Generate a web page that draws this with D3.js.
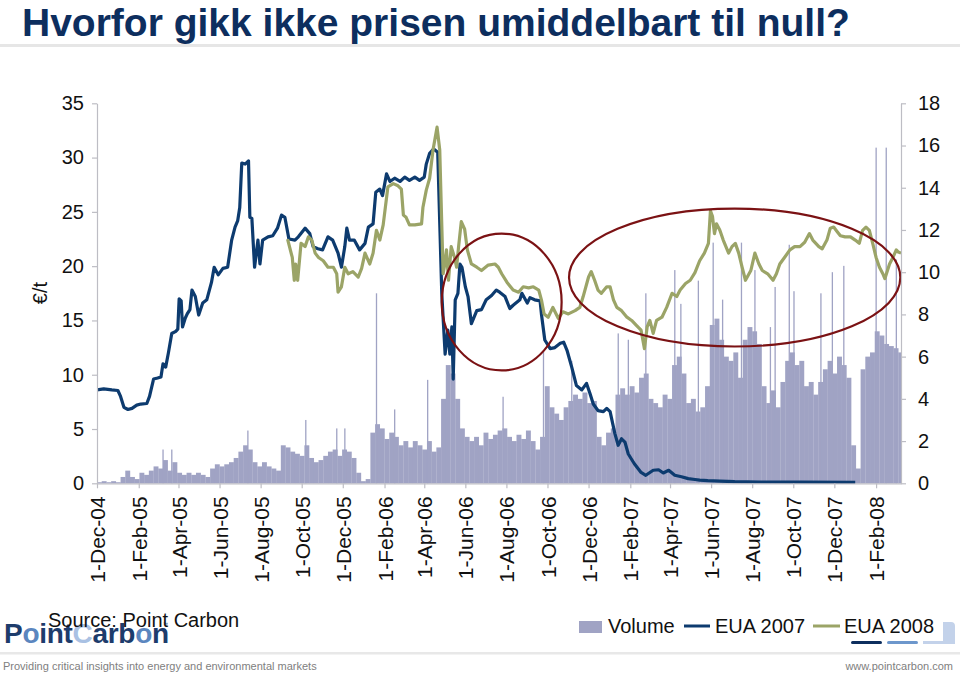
<!DOCTYPE html>
<html><head><meta charset="utf-8">
<script src="https://cdn.jsdelivr.net/npm/d3@7"></script>
<style>
body{margin:0;background:#fff;}
svg{display:block;font-family:"Liberation Sans",Arial,Helvetica,sans-serif;}
</style>
</head><body>
<svg id="chart" width="960" height="675"></svg>
<script>
// ---------------- DATA ----------------
const eua07Dates = ["2004-12-01","2004-12-11","2004-12-23","2005-01-01","2005-01-05","2005-01-10","2005-01-16","2005-01-22","2005-01-29","2005-02-04","2005-02-13","2005-02-17","2005-02-23","2005-03-01","2005-03-06","2005-03-09","2005-03-13","2005-03-17","2005-03-22","2005-03-28","2005-03-31","2005-04-02","2005-04-05","2005-04-07","2005-04-11","2005-04-14","2005-04-18","2005-04-21","2005-04-26","2005-05-01","2005-05-07","2005-05-13","2005-05-20","2005-05-24","2005-05-30","2005-06-06","2005-06-13","2005-06-19","2005-06-24","2005-06-28","2005-07-01","2005-07-04","2005-07-09","2005-07-14","2005-07-16","2005-07-19","2005-07-23","2005-07-28","2005-07-31","2005-08-04","2005-08-12","2005-08-19","2005-08-26","2005-09-01","2005-09-06","2005-09-12","2005-09-21","2005-09-26","2005-10-06","2005-10-13","2005-10-18","2005-10-25","2005-11-01","2005-11-09","2005-11-16","2005-11-24","2005-11-29","2005-12-04","2005-12-07","2005-12-11","2005-12-18","2005-12-26","2006-01-03","2006-01-08","2006-01-15","2006-01-19","2006-01-25","2006-01-29","2006-02-04","2006-02-09","2006-02-16","2006-02-24","2006-03-03","2006-03-10","2006-03-18","2006-03-25","2006-04-01","2006-04-04","2006-04-09","2006-04-15","2006-04-21","2006-04-27","2006-05-02","2006-05-06","2006-05-09","2006-05-12","2006-05-14","2006-05-17","2006-05-21","2006-05-24","2006-05-27","2006-06-01","2006-06-05","2006-06-10","2006-06-18","2006-06-25","2006-07-02","2006-07-10","2006-07-17","2006-07-22","2006-07-30","2006-08-06","2006-08-11","2006-08-21","2006-08-24","2006-09-01","2006-09-05","2006-09-12","2006-09-20","2006-09-22","2006-09-27","2006-10-05","2006-10-12","2006-10-20","2006-10-25","2006-10-30","2006-11-06","2006-11-13","2006-11-21","2006-11-28","2006-12-03","2006-12-08","2006-12-15","2006-12-23","2006-12-28","2007-01-02","2007-01-09","2007-01-14","2007-01-19","2007-01-24","2007-01-29","2007-02-07","2007-02-17","2007-02-24","2007-03-07","2007-03-15","2007-03-22","2007-03-30","2007-04-08","2007-04-18","2007-04-28","2007-05-08","2007-05-15","2007-05-27","2007-06-14","2007-07-06","2007-08-13","2007-10-12","2008-01-01"];
const eua07Values = [8.6,8.7,8.6,8.55,8.0,7.0,6.8,6.9,7.2,7.3,7.35,8.0,9.6,9.7,9.8,11.0,10.7,12.0,13.8,14.0,14.2,17.0,16.8,14.4,15.2,15.6,16.0,17.8,17.2,15.5,16.6,16.9,18.5,19.9,19.2,19.8,19.9,22.4,23.6,24.2,25.4,29.5,29.4,29.7,24.5,24.4,19.9,22.4,20.2,22.4,22.7,22.8,23.5,24.7,24.5,22.5,22.4,22.7,23.5,23.0,21.8,21.6,21.5,22.7,22.4,21.2,19.9,21.8,23.5,22.4,22.4,21.5,22.1,23.6,23.9,26.8,27.1,26.5,28.5,27.8,28.1,27.8,28.2,27.9,28.2,27.9,28.2,29.4,30.4,30.8,30.5,17.5,11.9,14.1,11.9,14.4,9.6,16.9,17.5,20.2,19.9,18.1,17.2,14.7,15.9,16.0,16.9,17.3,17.8,17.6,17.2,16.1,16.4,16.9,17.5,16.6,17.1,16.9,16.8,15.6,13.2,12.4,12.5,12.9,13.0,12.25,10.7,9.0,8.6,9.2,8.3,7.3,6.7,6.6,6.9,6.6,4.6,3.5,4.1,3.8,2.7,1.8,1.0,0.74,1.2,1.25,0.95,1.2,0.74,0.6,0.43,0.35,0.3,0.25,0.2,0.15,0.12,0.1,0.08];

const eua08Dates = ["2005-09-10","2005-09-12","2005-09-17","2005-09-20","2005-09-22","2005-09-25","2005-09-30","2005-10-06","2005-10-11","2005-10-16","2005-10-21","2005-10-26","2005-11-02","2005-11-09","2005-11-17","2005-11-22","2005-11-24","2005-11-29","2005-12-04","2005-12-09","2005-12-16","2005-12-24","2005-12-29","2006-01-03","2006-01-10","2006-01-15","2006-01-20","2006-01-25","2006-01-30","2006-02-06","2006-02-14","2006-02-21","2006-02-26","2006-03-01","2006-03-05","2006-03-10","2006-03-18","2006-03-28","2006-03-30","2006-04-04","2006-04-09","2006-04-14","2006-04-20","2006-04-24","2006-04-26","2006-04-29","2006-05-01","2006-05-04","2006-05-07","2006-05-11","2006-05-16","2006-05-19","2006-05-22","2006-05-26","2006-05-31","2006-06-04","2006-06-10","2006-06-18","2006-06-25","2006-07-05","2006-07-15","2006-07-20","2006-07-25","2006-08-02","2006-08-11","2006-08-19","2006-08-26","2006-09-03","2006-09-10","2006-09-18","2006-09-22","2006-09-26","2006-10-02","2006-10-09","2006-10-17","2006-10-24","2006-11-01","2006-11-11","2006-11-18","2006-11-23","2006-12-01","2006-12-05","2006-12-10","2006-12-15","2006-12-20","2006-12-28","2007-01-02","2007-01-07","2007-01-12","2007-01-19","2007-01-27","2007-02-03","2007-02-10","2007-02-17","2007-02-22","2007-02-26","2007-03-02","2007-03-07","2007-03-12","2007-03-20","2007-03-27","2007-04-04","2007-04-11","2007-04-16","2007-04-24","2007-05-01","2007-05-08","2007-05-15","2007-05-22","2007-05-28","2007-05-31","2007-06-03","2007-06-06","2007-06-09","2007-06-14","2007-06-19","2007-06-27","2007-07-02","2007-07-07","2007-07-12","2007-07-17","2007-07-22","2007-07-30","2007-08-05","2007-08-11","2007-08-16","2007-08-24","2007-09-01","2007-09-06","2007-09-11","2007-09-18","2007-09-26","2007-10-03","2007-10-11","2007-10-18","2007-10-25","2007-10-30","2007-11-08","2007-11-13","2007-11-20","2007-11-25","2007-11-30","2007-12-05","2007-12-10","2007-12-17","2007-12-25","2008-01-01","2008-01-07","2008-01-12","2008-01-17","2008-01-22","2008-01-27","2008-02-01","2008-02-06","2008-02-11","2008-02-14","2008-02-21","2008-02-26","2008-03-02","2008-03-05","2008-03-09"];
const eua08Values = [22.5,22.0,20.8,18.7,20.2,18.7,22.1,21.8,22.7,22.4,21.2,20.8,20.5,19.9,19.9,19.3,17.6,18.1,19.9,19.3,19.5,19.0,19.8,21.2,20.2,21.2,23.3,22.4,23.8,27.3,27.6,27.4,27.1,24.7,24.5,23.8,23.8,23.9,25.4,27.0,28.1,30.7,32.8,30.7,26.1,19.3,20.0,21.5,18.7,21.8,20.8,19.9,21.8,24.1,23.4,21.5,20.2,19.9,19.6,20.1,20.2,19.9,19.3,18.5,17.8,17.6,18.1,18.0,18.1,17.8,16.9,15.6,15.3,16.2,15.2,15.8,15.6,15.9,16.2,17.2,19.0,19.5,18.7,17.8,17.5,18.1,18.1,16.9,16.2,15.9,15.3,15.0,14.55,14.1,12.4,14.4,15.0,13.8,15.0,15.3,16.2,17.5,17.2,17.8,18.4,18.7,19.4,20.5,21.2,22.1,25.1,24.6,23.0,23.9,23.3,22.4,21.2,21.8,22.1,21.2,19.9,18.7,19.6,21.2,20.2,19.6,19.3,18.7,19.3,20.2,20.8,21.5,21.8,21.8,22.2,23.0,22.4,21.8,21.6,22.4,23.5,23.6,23.2,22.8,22.7,22.7,22.4,22.1,23.3,23.6,23.3,22.1,20.8,19.9,19.3,18.85,20.2,20.8,21.5,21.3,21.2];

// weekly traded volume (right axis), weeks starting 1-Dec-04
const volumeStart = "2004-12-01";
const volumeWeekly = [0.05,0.1,0.05,0.1,0.05, 0.3,0.6,0.3,0.2,0.5, 0.4,0.6,0.8,0.7,1.1, 0.6,1.0,0.5,0.4,0.5,
 0.4,0.5,0.4,0.3,0.7, 0.9,0.8,0.9,1.0,1.2, 1.5,1.8,1.6,1.0,0.8, 1.0,0.8,0.7,0.6,1.8,
 1.7,1.5,1.4,1.3,1.8, 1.2,1.0,1.1,1.3,1.5, 1.6,1.3,1.6,1.5,1.2, 0.5,0.1,0.2,2.4,2.8,
 2.6,2.1,2.4,2.2,1.8, 2.0,1.7,2.0,1.8,1.6, 2.0,1.5,1.7,4.0,5.6, 5.2,4.0,2.6,2.2,2.0,
 2.2,1.8,2.4,2.1,2.3, 2.5,2.6,2.2,2.0,2.3, 2.1,2.5,2.0,1.6,2.2, 4.6,3.6,3.3,3.0,3.6,
 3.9,4.2,4.0,4.3,3.8, 3.9,2.2,1.8,2.4,2.6, 4.2,4.5,4.2,4.6,4.3, 5.0,5.2,4.0,3.8,3.6,
 4.2,4.0,5.6,6.0,5.2, 3.8,4.0,3.4,3.6,4.6, 7.5,7.8,6.8,6.0,5.8, 6.2,5.0,6.8,7.4,7.2,
 6.6,4.6,3.8,4.4,3.6, 4.8,5.8,6.2,5.6,5.8, 4.6,4.8,4.2,4.8,5.4, 5.8,5.2,6.0,5.6,5.0,
 1.8,0.7,5.4,6.0,6.2, 7.2,7.0,6.6,6.5,6.4, 6.2];
// single-day volume peaks
const spikeDates = ["2005-03-09","2005-03-22","2005-07-13","2005-10-07","2005-11-22","2005-12-04","2006-01-20","2006-02-16","2006-04-06","2006-07-27","2006-09-25","2006-11-06","2007-01-14","2007-01-29","2007-02-24","2007-04-08","2007-04-17","2007-05-13","2007-06-04","2007-06-18","2007-07-16","2007-08-05","2007-08-28","2007-09-04","2007-09-25","2007-10-02","2007-11-11","2007-11-28","2007-12-15","2008-02-01","2008-02-16","2008-03-02"];
const spikeValues = [1.6,1.6,2.5,3.0,2.6,2.6,9.0,3.5,4.9,4.1,6.3,5.8,7.1,6.8,9.0,10.1,8.5,9.6,11.4,8.7,11.4,10.1,7.4,9.3,11.3,9.1,9.0,10.0,10.3,15.9,15.9,10.6];

const tickDates = ["2004-12-01","2005-02-01","2005-04-01","2005-06-01","2005-08-01","2005-10-01","2005-12-01","2006-02-01","2006-04-01","2006-06-01","2006-08-01","2006-10-01","2006-12-01","2007-02-01","2007-04-01","2007-06-01","2007-08-01","2007-10-01","2007-12-01","2008-02-01"];
const leftTicks = [0,5,10,15,20,25,30,35];
const rightTicks = [0,2,4,6,8,10,12,14,16,18];
// highlighted periods (ellipses): date span and €/t span
const ellipseDates = [["2006-04-27","2006-10-22"],["2006-11-02","2008-03-08"]];
const ellipseValues = [[10.4,23.0],[12.6,25.3]];
const legendItems = ["Volume","EUA 2007","EUA 2008"];

// ---------------- DRAW ----------------
const parse = d3.timeParse("%Y-%m-%d");
const svg = d3.select("#chart");
const C = {vol:"#a0a3c4", e07:"#0d3b6f", e08:"#9ba467", ell:"#7b1214", axis:"#bdbdc4", text:"#111"};

const x = d3.scaleTime().domain([parse("2004-12-01"), parse("2008-03-09")]).range([97, 901]);
const yL = d3.scaleLinear().domain([0,35]).range([483.3, 103.3]);
const yR = d3.scaleLinear().domain([0,18]).range([483.3, 103.3]);

svg.append("defs").append("clipPath").attr("id","plot")
  .append("rect").attr("x",97).attr("y",90).attr("width",804).attr("height",394);

// title
svg.append("text").attr("x",22).attr("y",36).attr("font-size",39).attr("font-weight","bold")
  .attr("fill","#0d2e5e").text("Hvorfor gikk ikke prisen umiddelbart til null?");
svg.append("rect").attr("x",0).attr("y",44).attr("width",960).attr("height",3).attr("fill","#e6e6e6");

// volume bars
const plot = svg.append("g").attr("clip-path","url(#plot)");
const v0 = parse(volumeStart);
const vol = volumeWeekly.map((v,i)=>({d:d3.timeDay.offset(v0,7*i), v}));
plot.append("g").selectAll("rect").data(vol).join("rect")
  .attr("x", d=>x(d.d))
  .attr("width", d=>x(d3.timeDay.offset(d.d,7)) - x(d.d) + 0.2)
  .attr("y", d=>yR(d.v)).attr("height", d=>yR(0)-yR(d.v))
  .attr("fill", C.vol);
const spikes = spikeDates.map((s,i)=>({d:parse(s), v:spikeValues[i]}));
plot.append("g").selectAll("rect").data(spikes).join("rect")
  .attr("x", d=>x(d.d)-0.6).attr("width",1.3)
  .attr("y", d=>yR(d.v)).attr("height", d=>yR(0)-yR(d.v))
  .attr("fill", C.vol);

// lines
const line = d3.line().x(d=>x(d.d)).y(d=>yL(d.v)).curve(d3.curveLinear);
const s07 = eua07Dates.map((s,i)=>({d:parse(s), v:eua07Values[i]}));
const s08 = eua08Dates.map((s,i)=>({d:parse(s), v:eua08Values[i]}));
plot.append("path").datum(s07).attr("d",line).attr("fill","none").attr("stroke",C.e07)
  .attr("stroke-width",3.2).attr("stroke-linejoin","round");
plot.append("path").datum(s08).attr("d",line).attr("fill","none").attr("stroke",C.e08)
  .attr("stroke-width",3.2).attr("stroke-linejoin","round");

// ellipses
ellipseDates.forEach((ds,i)=>{
  const x0 = x(parse(ds[0])), x1 = x(parse(ds[1]));
  const y0 = yL(ellipseValues[i][1]), y1 = yL(ellipseValues[i][0]);
  svg.append("ellipse").attr("cx",(x0+x1)/2).attr("cy",(y0+y1)/2)
    .attr("rx",(x1-x0)/2).attr("ry",(y1-y0)/2)
    .attr("fill","none").attr("stroke",C.ell).attr("stroke-width",2.2);
});

// axes
function styleAxis(g){
  g.selectAll(".domain").attr("stroke",C.axis).attr("stroke-width",1.2);
  g.selectAll(".tick line").attr("stroke",C.axis).attr("stroke-width",1.2);
  g.selectAll(".tick text").attr("fill",C.text).attr("font-size",20)
    .attr("font-family",'"Liberation Sans",Arial,sans-serif');
}
const gL = svg.append("g").attr("transform","translate(97,0)")
  .call(d3.axisLeft(yL).tickValues(leftTicks).tickSize(5).tickSizeOuter(0).tickPadding(8));
styleAxis(gL);
const gR = svg.append("g").attr("transform","translate(901,0)")
  .call(d3.axisRight(yR).tickValues(rightTicks).tickSize(5).tickSizeOuter(0).tickPadding(12));
styleAxis(gR);
const fmt = d3.timeFormat("%b-%y");
const gB = svg.append("g").attr("transform","translate(0,483.3)")
  .call(d3.axisBottom(x).tickValues(tickDates.map(parse)).tickSize(5).tickSizeOuter(0)
    .tickFormat(d=>d.getDate()+"-"+fmt(d)));
styleAxis(gB);
gB.selectAll(".tick text").attr("transform","rotate(-90)").attr("text-anchor","end")
  .attr("x",-13).attr("y",0).attr("dy","0.36em").attr("font-size",21);

svg.append("text").attr("transform","translate(47,293) rotate(-90)").attr("text-anchor","middle")
  .attr("font-size",20).attr("fill",C.text).text("€/t");

// logo + source
const logo = svg.append("text").attr("x",4).attr("y",643).attr("font-size",28).attr("font-weight","bold")
  .attr("fill","#1d3c6c").attr("letter-spacing","-0.3");
[["P","#1d3c6c"],["o","#5b86bf"],["int","#1d3c6c"],["C","#a9c1e3"],["arb","#1d3c6c"],["o","#5b86bf"],["n","#1d3c6c"]]
  .forEach(([t,c])=>logo.append("tspan").attr("fill",c).text(t));
svg.append("text").attr("x",163).attr("y",626).attr("font-size",5).attr("fill","#1d3c6c").text("™");
svg.append("text").attr("x",48).attr("y",627).attr("font-size",20).attr("fill",C.text).text("Source: Point Carbon");

// legend
const lg = svg.append("g");
lg.append("rect").attr("x",579).attr("y",621).attr("width",23).attr("height",12).attr("fill",C.vol);
lg.append("text").attr("x",608).attr("y",633).attr("font-size",20).attr("fill",C.text).text(legendItems[0]);
lg.append("line").attr("x1",684).attr("x2",710).attr("y1",626).attr("y2",626).attr("stroke",C.e07).attr("stroke-width",3);
lg.append("text").attr("x",715).attr("y",633).attr("font-size",20).attr("fill",C.text).text(legendItems[1]);
lg.append("line").attr("x1",813).attr("x2",840).attr("y1",626).attr("y2",626).attr("stroke",C.e08).attr("stroke-width",3);
lg.append("text").attr("x",844).attr("y",633).attr("font-size",20).attr("fill",C.text).text(legendItems[2]);

// template decoration bottom right
svg.append("path").attr("d","M943,622 h8 a4,4 0 0 1 4,4 v18 h-32 v-3 h20 z").attr("fill","#c3d2ea");
svg.append("rect").attr("x",851).attr("y",641).attr("width",31).attr("height",3).attr("rx",1.5).attr("fill","#0d2e5e");
svg.append("rect").attr("x",887).attr("y",641).attr("width",31).attr("height",3).attr("rx",1.5).attr("fill","#6d97cc");

// footer
svg.append("rect").attr("x",0).attr("y",652).attr("width",960).attr("height",2.5).attr("fill","#e8e8e8");
svg.append("text").attr("x",3).attr("y",670).attr("font-size",11).attr("fill","#808080")
  .text("Providing critical insights into energy and environmental markets");
svg.append("text").attr("x",953).attr("y",670).attr("text-anchor","end").attr("font-size",11).attr("fill","#808080")
  .text("www.pointcarbon.com");
</script>
</body></html>
